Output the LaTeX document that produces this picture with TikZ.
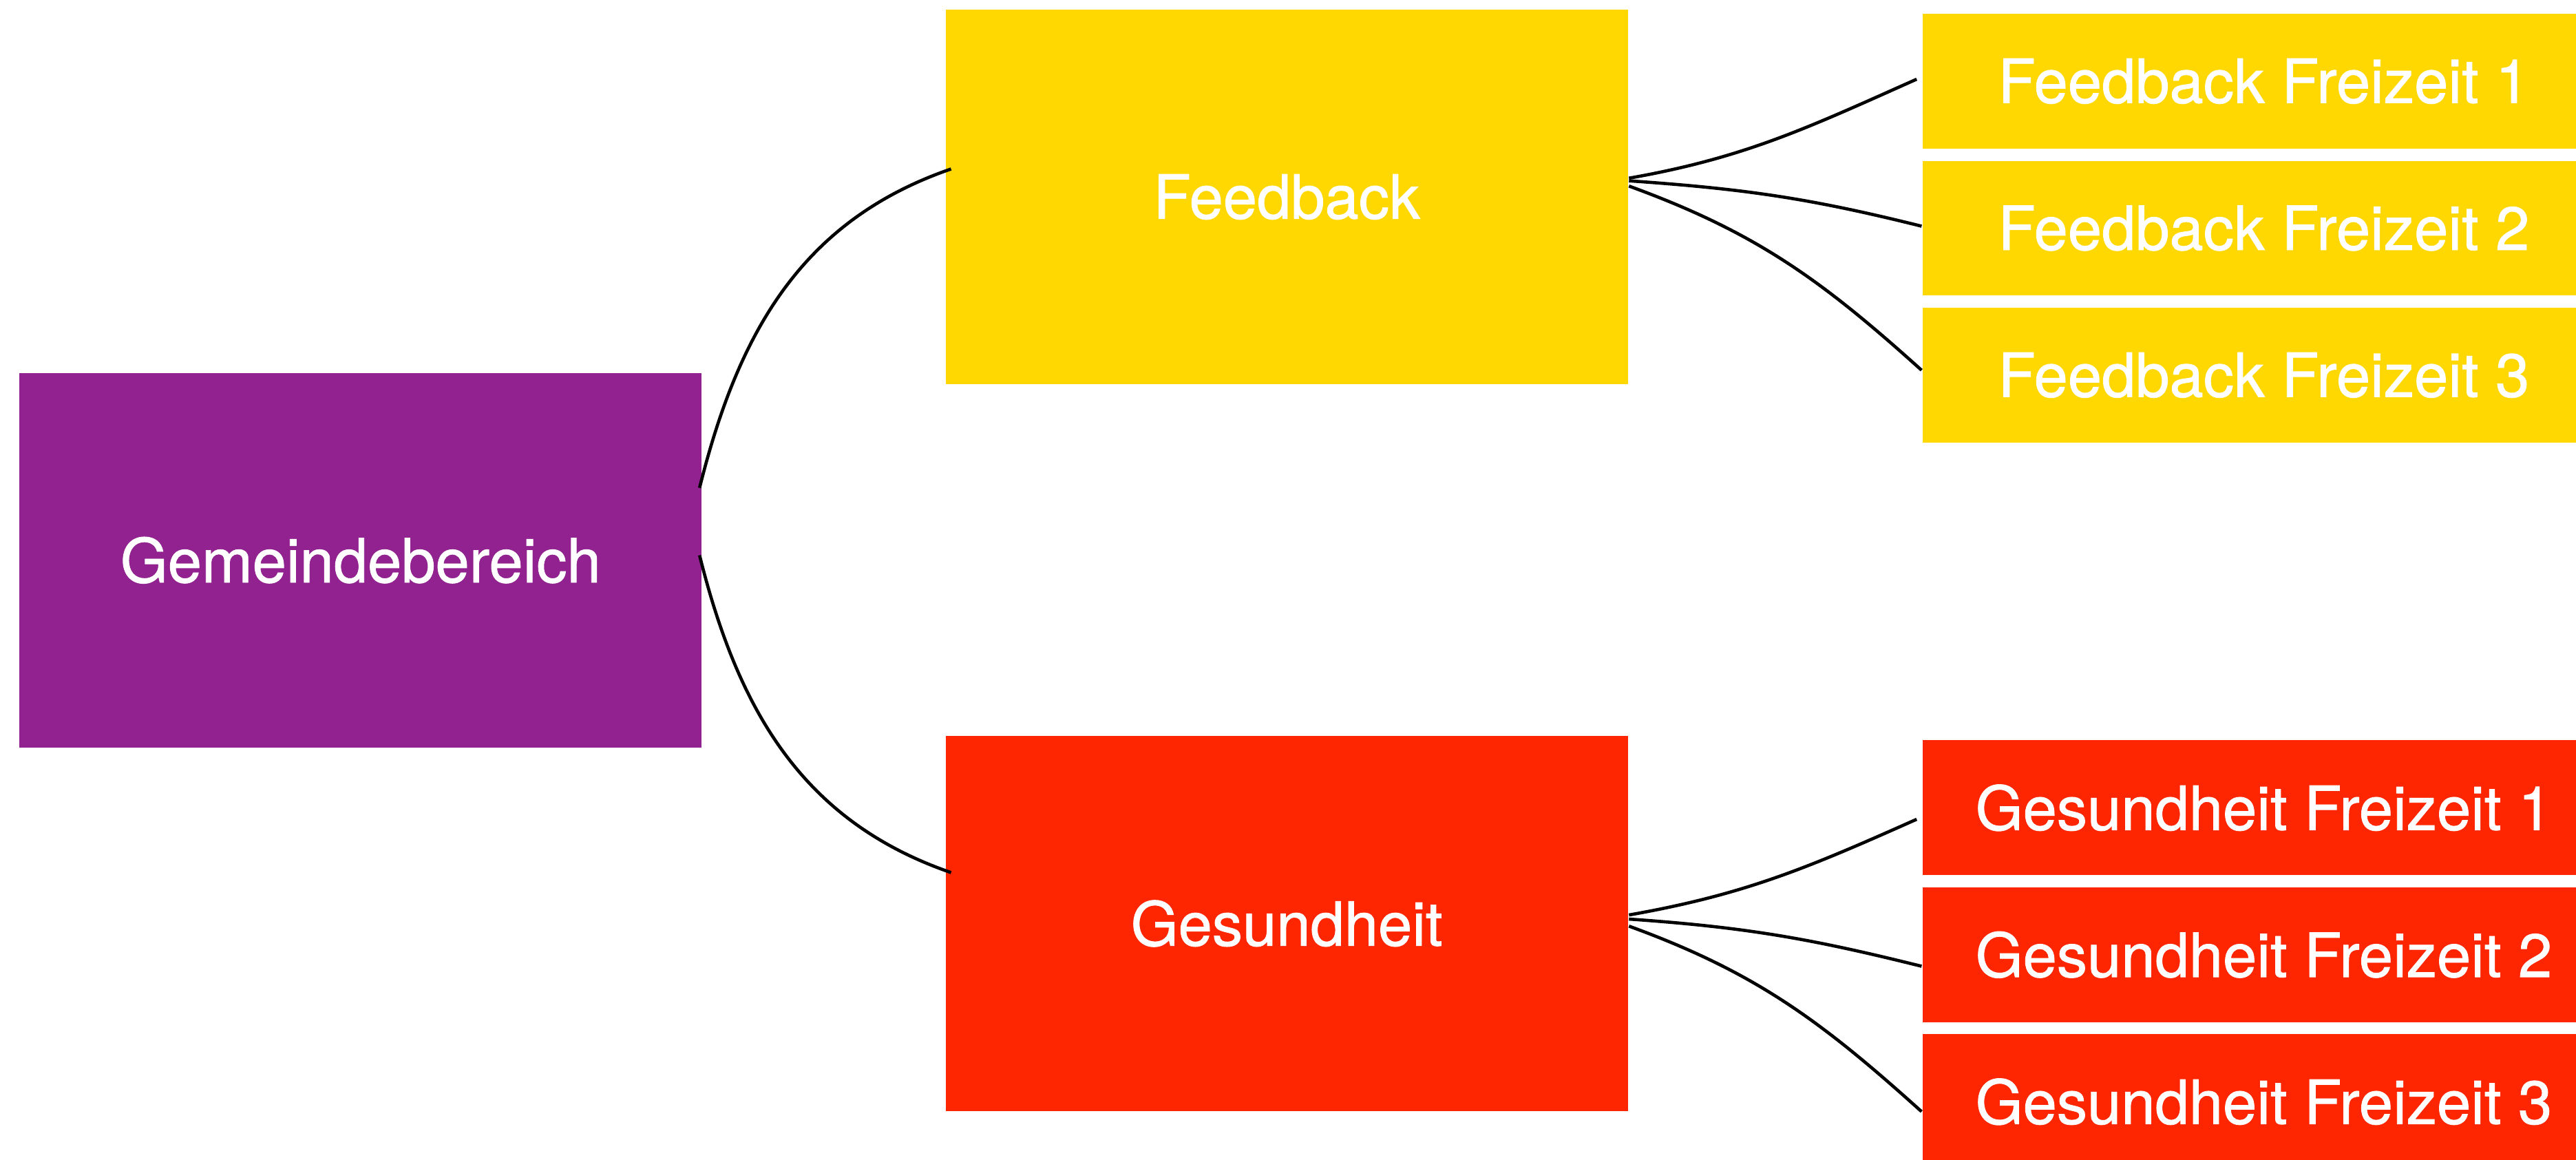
\documentclass[tikz,border=0pt]{standalone}
\usepackage{fontspec}
\setmainfont{TeX Gyre Heros}
\newfontfamily\boxfont{TeX Gyre Heros}[FakeBold=1]
\usepackage{xcolor}
\usetikzlibrary{positioning}
\definecolor{rootpurple}{RGB}{145,34,143}
\definecolor{fbyellow}{RGB}{254,216,0}
\definecolor{gsred}{RGB}{254,38,0}
\tikzset{%
boxnode/.style={rectangle, inner sep=0pt, text=white, font=\boxfont\fontsize{10.55}{12}\selectfont},
bignode/.style={boxnode, minimum width=4.15cm, minimum height=2.28cm},
leafnode/.style={boxnode, minimum width=4.15cm, minimum height=0.82cm},
link/.style={draw=black, line width=0.55pt, -}
}

\begin{document}
\begin{tikzpicture}[x=0.01cm, y=0.01cm, node distance=0.06cm]
		\useasboundingbox (0,0) rectangle (1568,706);
		\clip (0,0) rectangle (1568,706);
		\node[bignode, fill=rootpurple] (gemeinde) at (219.5,365) {Gemeindebereich};
		\node[bignode, fill=fbyellow] (feedback) [right=1.47cm of gemeinde, yshift=2.21cm] {Feedback};
		\node[bignode, fill=gsred] (gesundheit) [right=1.47cm of gemeinde, yshift=-2.21cm] {Gesundheit};
	
		\node[leafnode, fill=fbyellow] (ff2) [right=1.78cm of feedback, yshift=-0.19cm] {Feedback Freizeit 2};
		\node[leafnode, fill=fbyellow] (ff1) [above=of ff2] {Feedback Freizeit 1};
		\node[leafnode, fill=fbyellow] (ff3) [below=of ff2] {Feedback Freizeit 3};
		\node[leafnode, fill=gsred] (gf2) [right=1.78cm of gesundheit, yshift=-0.19cm] {Gesundheit Freizeit 2};
		\node[leafnode, fill=gsred] (gf1) [above=of gf2] {Gesundheit Freizeit 1};
		\node[leafnode, fill=gsred] (gf3) [below=of gf2] {Gesundheit Freizeit 3};
	
		\path[link] ([xshift=-0.02cm, yshift=0.44cm]gemeinde.east) edge [out=76, in=199] ([xshift=0.04cm, yshift=0.17cm]feedback.west);
		\path[link] ([xshift=-0.02cm, yshift=0.03cm]gemeinde.east) edge [out=-76, in=161] ([xshift=0.04cm, yshift=0.31cm]gesundheit.west);
		
		\path[link] ([yshift=0.114cm]feedback.east) edge [out=10, in=204] ([xshift=-0.03cm, yshift=0.012cm]ff1.west);
		\path[link] ([yshift=0.098cm]feedback.east) edge [out=-4, in=166] ([yshift=0.012cm]ff2.west);
		\path[link] ([yshift=0.066cm]feedback.east) edge [out=-20, in=138] ([yshift=0.03cm]ff3.west);
		
		\path[link] ([yshift=0.052cm]gesundheit.east) edge [out=10, in=204] ([xshift=-0.03cm, yshift=-0.07cm]gf1.west);
		\path[link] ([yshift=0.027cm]gesundheit.east) edge [out=-4, in=166] ([yshift=-0.07cm]gf2.west);
		\path[link] ([yshift=-0.016cm]gesundheit.east) edge [out=-20, in=138] ([yshift=-0.06cm]gf3.west);
	\end{tikzpicture}
\end{document}
